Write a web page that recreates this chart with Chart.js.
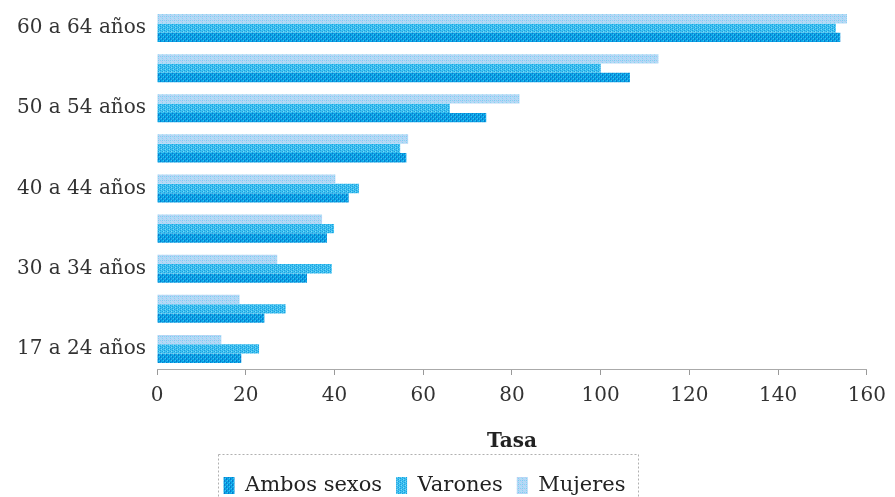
<!DOCTYPE html>
<html><head><meta charset="utf-8">
<script src="https://cdn.jsdelivr.net/npm/chart.js@4/dist/chart.umd.min.js"></script>
<style>html,body{margin:0;padding:0;background:#fff}</style>
</head><body>
<canvas id="c" width="895" height="497"></canvas>
<script>
// Categories listed top to bottom
const categories = ['60 a 64 años','55 a 59 años','50 a 54 años','45 a 49 años','40 a 44 años','35 a 39 años','30 a 34 años','25 a 29 años','17 a 24 años'];
const ambosSexos = [154, 106.6, 74.2, 56.2, 43.2, 38.3, 33.8, 24.2, 19];
const varones    = [153, 100, 66, 54.8, 45.5, 39.9, 39.4, 29, 23];
const mujeres    = [155.5, 113, 81.7, 56.6, 40.2, 37.2, 27.1, 18.6, 14.5];
const xMin = 0, xMax = 160, xStep = 20;

const canvas = document.getElementById('c');
const ctx0 = canvas.getContext('2d');
function pattern(bg, dots){
  const t = document.createElement('canvas'); t.width = 4; t.height = 4;
  const g = t.getContext('2d');
  g.fillStyle = bg; g.fillRect(0,0,4,4);
  dots.forEach(([x,y,c]) => { g.fillStyle = c; g.fillRect(x,y,1,1); });
  return ctx0.createPattern(t,'repeat');
}
const pAmbos = pattern('#0AA5E6', [[0,0,'#0A78CC'],[0,1,'#0A78CC'],[2,2,'#0A78CC'],[2,3,'#0A78CC'],[1,2,'#3FC3F2'],[3,0,'#3FC3F2']]);
const pVar = pattern('#3EC2F0', [[0,0,'#1C9CE0'],[2,1,'#1C9CE0'],[0,2,'#1C9CE0'],[2,3,'#1C9CE0'],[1,1,'#7AD8F6'],[3,3,'#7AD8F6']]);
const pMuj = pattern('#B2DCF6', [[0,0,'#8ECDF2'],[2,2,'#8ECDF2'],[1,1,'#C2C4F2'],[3,3,'#C2C4F2'],[2,0,'#7DC8F0']]);

Chart.defaults.font.family = "'DejaVu Serif', serif";

const legendBox = {
  id: 'legendBox',
  afterLayout(chart){
    const l = chart.legend;
    l.left -= 11; l.right -= 11; l.top += 9; l.bottom += 9;
  },
  afterDraw(chart){
    const hb = chart.legend.legendHitBoxes;
    if (!hb || !hb.length) return;
    const c = chart.ctx;
    const last = hb[hb.length-1];
    const x0 = Math.round(hb[0].left - 6), x1 = Math.round(last.left + last.width + 13);
    const y0 = Math.round(hb[0].top - 21);
    c.save();
    c.strokeStyle = '#b0b0b0'; c.lineWidth = 1; c.setLineDash([2,2]);
    c.strokeRect(x0 + 0.5, y0 + 0.5, x1 - x0, chart.height);
    c.restore();
  }
};

new Chart(canvas, {
  type: 'bar',
  data: {
    labels: categories,
    datasets: [
      { label: 'Mujeres', data: mujeres, backgroundColor: pMuj, borderWidth: 0 },
      { label: 'Varones', data: varones, backgroundColor: pVar, borderWidth: 0 },
      { label: 'Ambos sexos', data: ambosSexos, backgroundColor: pAmbos, borderWidth: 0 }
    ]
  },
  options: {
    indexAxis: 'y',
    responsive: false,
    animation: false,
    devicePixelRatio: 1,
    categoryPercentage: 0.7,
    barPercentage: 1.0,
    layout: { padding: { top: 8, right: 24, left: 0, bottom: 0 } },
    plugins: {
      tooltip: { enabled: false },
      legend: {
        position: 'bottom',
        reverse: true,
        labels: { boxWidth: 11, boxHeight: 17, padding: 14, color: '#222', font: { size: 21 } }
      }
    },
    scales: {
      x: {
        min: xMin, max: xMax,
        ticks: { stepSize: xStep, color: '#333', font: { size: 20 }, padding: 9, maxRotation: 0 },
        grid: { drawOnChartArea: false, drawTicks: true, tickLength: 6, color: '#999' },
        border: { display: true, color: '#aaa', dash: [3,2] },
        title: { display: true, text: 'Tasa', color: '#222', font: { size: 20, weight: 'bold', lineHeight: 1 }, padding: 0 },
        afterFit(s){ s.height = 83; }
      },
      y: {
        ticks: { autoSkip: false, padding: 3, color: '#333', font: { size: 20 },
          callback(v, i){ return i % 2 === 0 ? this.getLabelForValue(v) : ''; } },
        grid: { display: false },
        border: { display: false },
        afterFit(s){ s.width = 157; s.paddingTop = 0; s.paddingBottom = 0; }
      }
    }
  },
  plugins: [legendBox]
});
</script>
</body></html>
